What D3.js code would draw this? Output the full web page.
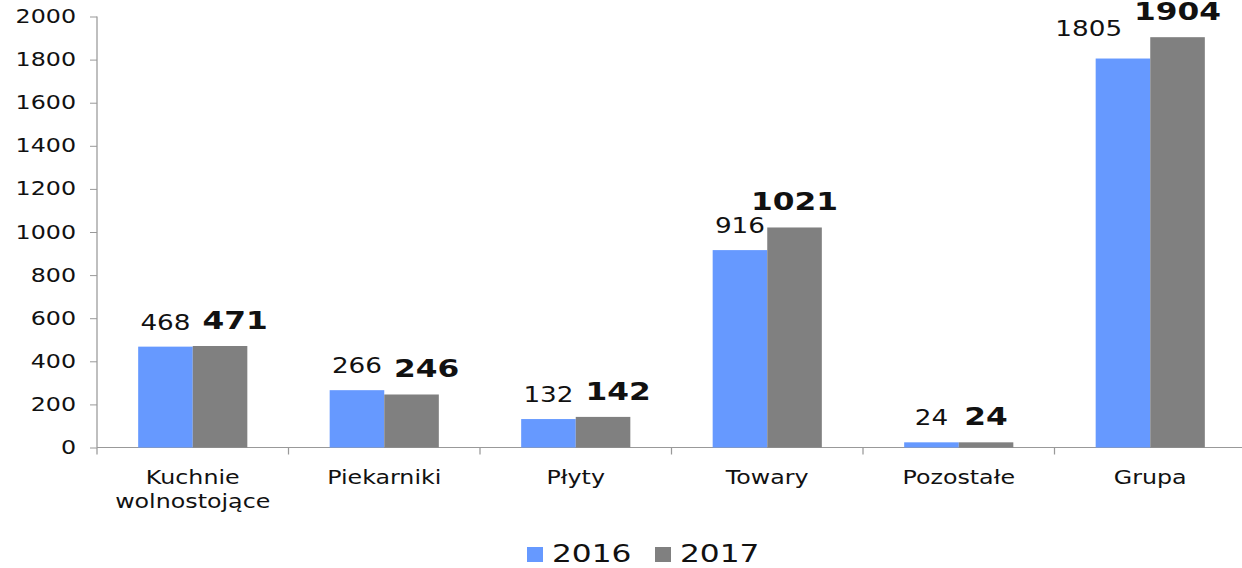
<!DOCTYPE html>
<html>
<head>
<meta charset="utf-8">
<script src="https://cdn.jsdelivr.net/npm/d3@7"></script>
<style>
  html, body { margin: 0; padding: 0; background: #fff; }
  svg { display: block; }
  text { font-family: "DejaVu Sans", Verdana, sans-serif; fill: #111; }
</style>
</head>
<body>
<div id="chart"></div>
<script>
// dane
const categories = ['Kuchnie wolnostojące', 'Piekarniki', 'Płyty', 'Towary', 'Pozostałe', 'Grupa'];
const categoryLines = [['Kuchnie', 'wolnostojące'], ['Piekarniki'], ['Płyty'], ['Towary'], ['Pozostałe'], ['Grupa']];
const seriesNames = ['2016', '2017'];
const values2016 = [468, 266, 132, 916, 24, 1805];
const values2017 = [471, 246, 142, 1021, 24, 1904];
const yTicks = [0, 200, 400, 600, 800, 1000, 1200, 1400, 1600, 1800, 2000];
const colors = ['#6699ff', '#808080'];

// obraz jest rozciągnięty w poziomie
const W = 1242, H = 568, S = 1.25;
const VW = W / S;

const svg = d3.select('#chart')
  .append('svg')
  .attr('width', W)
  .attr('height', H)
  .attr('viewBox', `0 0 ${VW} ${H}`)
  .attr('preserveAspectRatio', 'none');

const x0 = d3.scaleBand()
  .domain(categories)
  .range([97 / S, 1246 / S])
  .paddingInner(0.43)
  .paddingOuter(0.215);

const x1 = d3.scaleBand()
  .domain(seriesNames)
  .range([0, x0.bandwidth()]);

const y = d3.scaleLinear()
  .domain([0, 2000])
  .range([447.5, 16.5]);

const rows = categories.map((c, i) => ({ cat: c, lines: categoryLines[i], v: [values2016[i], values2017[i]] }));

// oś Y
const yAxis = svg.append('g')
  .attr('transform', `translate(${97 / S},0)`)
  .call(d3.axisLeft(y).tickValues(yTicks).tickFormat(d3.format('d')).tickSize(7 / S).tickPadding(14 / S));
yAxis.select('.domain').attr('stroke', '#999').attr('d', `M0,${y(2000)}V${y(0)}`);
yAxis.selectAll('.tick line').attr('stroke', '#999');
yAxis.selectAll('.tick text')
  .attr('font-size', 19)
  .attr('font-family', '"DejaVu Sans", Verdana, sans-serif')
  .attr('fill', '#111');

// oś X
const xr = x0.range();
svg.append('line')
  .attr('x1', xr[0]).attr('x2', VW + 5)
  .attr('y1', y(0)).attr('y2', y(0))
  .attr('stroke', '#999');
svg.append('g')
  .selectAll('line')
  .data(d3.range(categories.length + 1))
  .join('line')
  .attr('x1', i => xr[0] + i * x0.step())
  .attr('x2', i => xr[0] + i * x0.step())
  .attr('y1', y(0)).attr('y2', y(0) + 7)
  .attr('stroke', '#999');

// słupki
const groups = svg.append('g')
  .selectAll('g')
  .data(rows)
  .join('g')
  .attr('transform', d => `translate(${x0(d.cat)},0)`);

groups.selectAll('rect')
  .data(d => d.v.map((v, j) => ({ s: seriesNames[j], v, j })))
  .join('rect')
  .attr('x', d => x1(d.s))
  .attr('width', x1.bandwidth())
  .attr('y', d => y(d.v))
  .attr('height', d => y(0) - y(d.v))
  .attr('fill', d => colors[d.j]);

// etykiety danych
groups.each(function (d, i) {
  const g = d3.select(this);
  const labels = d.v.map((v, j) => g.append('text')
    .attr('x', x1(seriesNames[j]) + x1.bandwidth() / 2)
    .attr('y', y(v) - 17)
    .attr('text-anchor', 'middle')
    .attr('font-size', j === 0 ? 21 : 25)
    .attr('font-weight', j === 0 ? 'normal' : 'bold')
    .text(v));
  // rozsuń etykiety, jeśli na siebie nachodzą
  const b0 = labels[0].node().getBBox();
  const b1 = labels[1].node().getBBox();
  const overlapX = b0.x + b0.width - (b1.x - 12 / S);
  const overlapY = Math.abs(+labels[0].attr('y') - +labels[1].attr('y')) < 22;
  if (overlapX > 0 && overlapY) {
    if (i < rows.length - 1) {
      labels[1].attr('x', +labels[1].attr('x') + overlapX);
    } else {
      labels[0]
        .attr('x', +labels[0].attr('x') - overlapX)
        .attr('y', +labels[0].attr('y') - 6);
    }
  }
});

// etykiety kategorii
svg.append('g')
  .selectAll('text')
  .data(rows)
  .join('text')
  .attr('x', d => x0(d.cat) + x0.bandwidth() / 2)
  .attr('y', 484)
  .attr('text-anchor', 'middle')
  .attr('font-size', 19)
  .selectAll('tspan')
  .data(d => d.lines)
  .join('tspan')
  .attr('x', function () { return d3.select(this.parentNode).attr('x'); })
  .attr('dy', (d, i) => i === 0 ? 0 : 24)
  .text(d => d);

// legenda
const legend = svg.append('g');
const legendX = [527, 655];
seriesNames.forEach((s, j) => {
  legend.append('rect')
    .attr('x', legendX[j] / S)
    .attr('y', 547)
    .attr('width', 16 / S)
    .attr('height', 15)
    .attr('fill', colors[j]);
  legend.append('text')
    .attr('x', (legendX[j] + 25) / S)
    .attr('y', 562)
    .attr('font-size', 25)
    .text(s);
});
</script>
</body>
</html>
